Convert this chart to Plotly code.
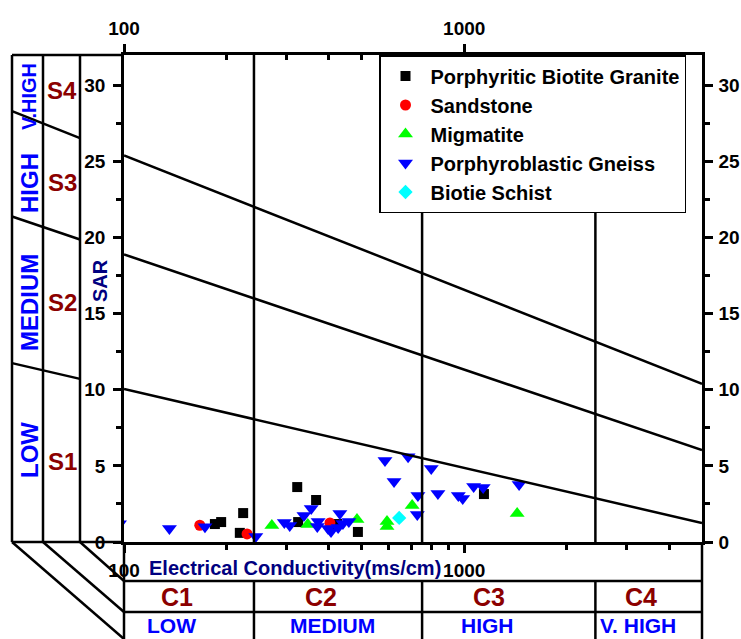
import numpy as np
import plotly.graph_objects as go

# ---------------- data ----------------
granite_ec = [185, 193, 224, 219, 323, 367, 325, 423, 487, 1143]
granite_sar = [1.18, 1.31, 1.9, 0.6, 3.61, 2.76, 1.31, 1.18, 0.66, 3.15]

sandstone_ec = [167, 230, 403]
sandstone_sar = [1.1, 0.53, 1.25]

migmatite_ec = [272, 347, 484, 593, 593, 703, 1431]
migmatite_sar = [1.08, 1.15, 1.48, 1.34, 1.02, 2.4, 1.87]

gneiss_ec = [97, 136, 173, 244, 296, 307, 338, 355, 372, 370, 398, 406, 431, 426,
             440, 458, 585, 684, 800, 622, 731, 837, 961, 990, 1066, 1137, 1450, 728]
gneiss_sar = [1.2, 0.89, 1.0, 0.36, 1.28, 1.08, 1.74, 2.2, 1.35, 1.02, 0.89, 0.69, 1.87, 0.95,
              1.22, 1.35, 5.35, 5.6, 4.83, 3.97, 3.05, 3.19, 3.05, 2.86, 3.65, 3.58, 3.78, 1.81]

schist_ec = [644]
schist_sar = [1.58]

# classification boundaries
ec_range = [100, 5000]
sar_range = [0, 32]
ec_class_bounds = [241, 752, 2430]            # C1|C2, C2|C3, C3|C4
line_ec = [100, 5000]
line_s1_s2 = [10.05, 1.25]
line_s2_s3 = [18.9, 6.04]
line_s3_s4 = [25.4, 10.4]

x_ticks = [100, 1000]
x_minor = [200, 300, 400, 500, 600, 700, 800, 900, 2000, 3000, 4000]
y_ticks = [0, 5, 10, 15, 20, 25, 30]
y_minor = [2.5, 7.5, 12.5, 17.5, 22.5, 27.5]

s_labels = ["S1", "S2", "S3", "S4"]
s_hazard = ["LOW", "MEDIUM", "HIGH", "V.HIGH"]
c_labels = ["C1", "C2", "C3", "C4"]
c_hazard = ["LOW", "MEDIUM", "HIGH", "V. HIGH"]

# ---------------- layout geometry ----------------
W, H = 741, 639
L, R, T, B = 124, 702, 55, 542
FONT = "Liberation Sans, Arial, sans-serif"
DARKRED = "#8b0000"
BLUE = "#0000ff"
NAVY = "#000080"
LW = 2.5


def px(x):
    return (x - L) / (R - L)


def py(y):
    return (B - y) / (B - T)


lx0, lx1 = np.log10(ec_range[0]), np.log10(ec_range[1])


def ec_to_paper(ec):
    return (np.log10(ec) - lx0) / (lx1 - lx0)


fig = go.Figure()

series = [
    ("Porphyritic Biotite Granite", granite_ec, granite_sar, "square", "black", 10),
    ("Sandstone", sandstone_ec, sandstone_sar, "circle", "red", 11),
    ("Migmatite", migmatite_ec, migmatite_sar, "triangle-up", "#00ff00", 13),
    ("Porphyroblastic Gneiss", gneiss_ec, gneiss_sar, "triangle-down", "#0000ff", 13),
    ("Biotie Schist", schist_ec, schist_sar, "diamond", "#00ffff", 11),
]
for name, xs, ys, sym, col, sz in series:
    fig.add_trace(go.Scatter(x=xs, y=ys, mode="markers", name=name,
                             marker=dict(symbol=sym, color=col, size=sz, line=dict(width=0))))

# classification lines (drawn on top of the points)
for ys in (line_s1_s2, line_s2_s3, line_s3_s4):
    fig.add_trace(go.Scatter(x=line_ec, y=ys, mode="lines", showlegend=False,
                             line=dict(color="black", width=LW), hoverinfo="skip"))
for v in ec_class_bounds:
    fig.add_trace(go.Scatter(x=[v, v], y=sar_range, mode="lines", showlegend=False,
                             line=dict(color="black", width=LW), hoverinfo="skip"))

# dummy traces to register top / right axes
fig.add_trace(go.Scatter(x=[ec_range[0]], y=[None], xaxis="x2", yaxis="y", showlegend=False,
                         hoverinfo="skip"))
fig.add_trace(go.Scatter(x=[ec_range[0]], y=[None], xaxis="x", yaxis="y2", showlegend=False,
                         hoverinfo="skip"))

shapes = []


def seg(x0, y0, x1, y1):
    shapes.append(dict(type="line", xref="paper", yref="paper", x0=x0, y0=y0, x1=x1, y1=y1,
                       line=dict(color="black", width=LW), layer="above"))


# left side panel
for xx in (12, 43, 80):
    seg(px(xx), py(T), px(xx), py(B))
seg(px(12), py(T), px(L), py(T))
seg(px(12), py(B), px(L), py(B))
# extensions of the sloped lines into the left columns
for ys in (line_s1_s2, line_s2_s3, line_s3_s4):
    p0, p1 = ec_to_paper(line_ec[0]), ec_to_paper(line_ec[1])
    slope = (ys[1] - ys[0]) / (p1 - p0)
    xa, xb = px(12), px(80)
    sa = ys[0] + slope * (xa - p0)
    sb = ys[0] + slope * (xb - p0)
    seg(xa, sa / sar_range[1], xb, sb / sar_range[1])
# diagonals bottom-left
seg(px(12), py(B), px(L), py(639))
seg(px(43), py(B), px(L), py(612))
seg(px(80), py(B), px(L), py(581))
# bottom panel
seg(px(L), py(B), px(L), py(H + 2))
seg(px(R), py(B), px(R), py(H + 2))
seg(px(L), py(581), px(R), py(581))
seg(px(L), py(612), px(R), py(612))
for v in ec_class_bounds:
    xp = ec_to_paper(v)
    seg(xp, py(581), xp, py(H + 2))

ann = []


def text(x, y, s, size, color, angle=0):
    ann.append(dict(xref="paper", yref="paper", x=px(x), y=py(y), text="<b>" + s + "</b>",
                    showarrow=False, textangle=angle, xanchor="center", yanchor="middle",
                    font=dict(family=FONT, size=size, color=color)))


# S labels
for s, yy in zip(s_labels, [461, 302, 182, 90]):
    text(62, yy, s, 24, DARKRED)
# sodium hazard (rotated)
for s, yy, fs in zip(s_hazard, [450, 303, 183, 97], [24, 24, 24, 20]):
    text(29, yy, s, fs, BLUE, angle=-90)
# C labels
for s, xx in zip(c_labels, [177, 321, 489, 641]):
    text(xx, 597, s, 25, DARKRED)
for s, xx in zip(c_hazard, [171, 332, 487, 638]):
    text(xx, 625, s, 21, BLUE)
text(295, 568, "Electrical Conductivity(ms/cm)", 20, NAVY)
text(100, 281, "SAR", 20, NAVY, angle=-90)

tickfont = dict(family=FONT, size=19, color="black")
common_x = dict(type="log", range=[lx0, lx1], showgrid=False, zeroline=False,
                showline=True, linecolor="black", linewidth=LW, automargin=False,
                tickvals=x_ticks, ticktext=["<b>%d</b>" % v for v in x_ticks],
                tickfont=tickfont, tickcolor="black", tickwidth=LW, ticklen=8, ticks="outside")
common_y = dict(range=sar_range, showgrid=False, zeroline=False, automargin=False,
                showline=True, linecolor="black", linewidth=LW,
                tickvals=y_ticks, ticktext=["<b>%d</b>" % v for v in y_ticks],
                tickfont=tickfont, tickcolor="black", tickwidth=LW,
                ticklen=8, ticks="outside",
                minor=dict(tickvals=y_minor, ticks="outside", ticklen=5, tickwidth=LW,
                           tickcolor="black"))

fig.update_layout(
    width=W, height=H,
    margin=dict(l=L, r=W - R, t=T, b=H - B, pad=0, autoexpand=False),
    paper_bgcolor="white", plot_bgcolor="white",
    font=dict(family=FONT, color="black"),
    xaxis=dict(**common_x, side="bottom", anchor="y", ticklabelstandoff=1,
               minor=dict(tickvals=x_minor, ticks="outside", ticklen=5, tickwidth=LW,
                          tickcolor="black")),
    xaxis2=dict(**common_x, side="top", overlaying="x", anchor="y", ticklabelstandoff=2,
                minor=dict(tickvals=x_minor, ticks="inside", ticklen=5, tickwidth=LW,
                           tickcolor="black")),
    yaxis=dict(**common_y, side="left", anchor="x", ticklabelstandoff=4),
    yaxis2=dict(**common_y, side="right", overlaying="y", anchor="x", ticklabelstandoff=2),
    legend=dict(x=px(379), y=py(55), xanchor="left", yanchor="top",
                bgcolor="white", bordercolor="black", borderwidth=1.5,
                font=dict(family=FONT, size=20, color="black"),
                itemwidth=40, tracegroupgap=0),
    shapes=shapes,
    annotations=ann,
    showlegend=True,
)
for tr in fig.data[:5]:
    tr.name = "<b>" + tr.name + "</b>"

fig.write_html("out.html", config={"displayModeBar": False},
               post_script="document.body.style.margin='0';document.body.style.overflow='hidden';")
